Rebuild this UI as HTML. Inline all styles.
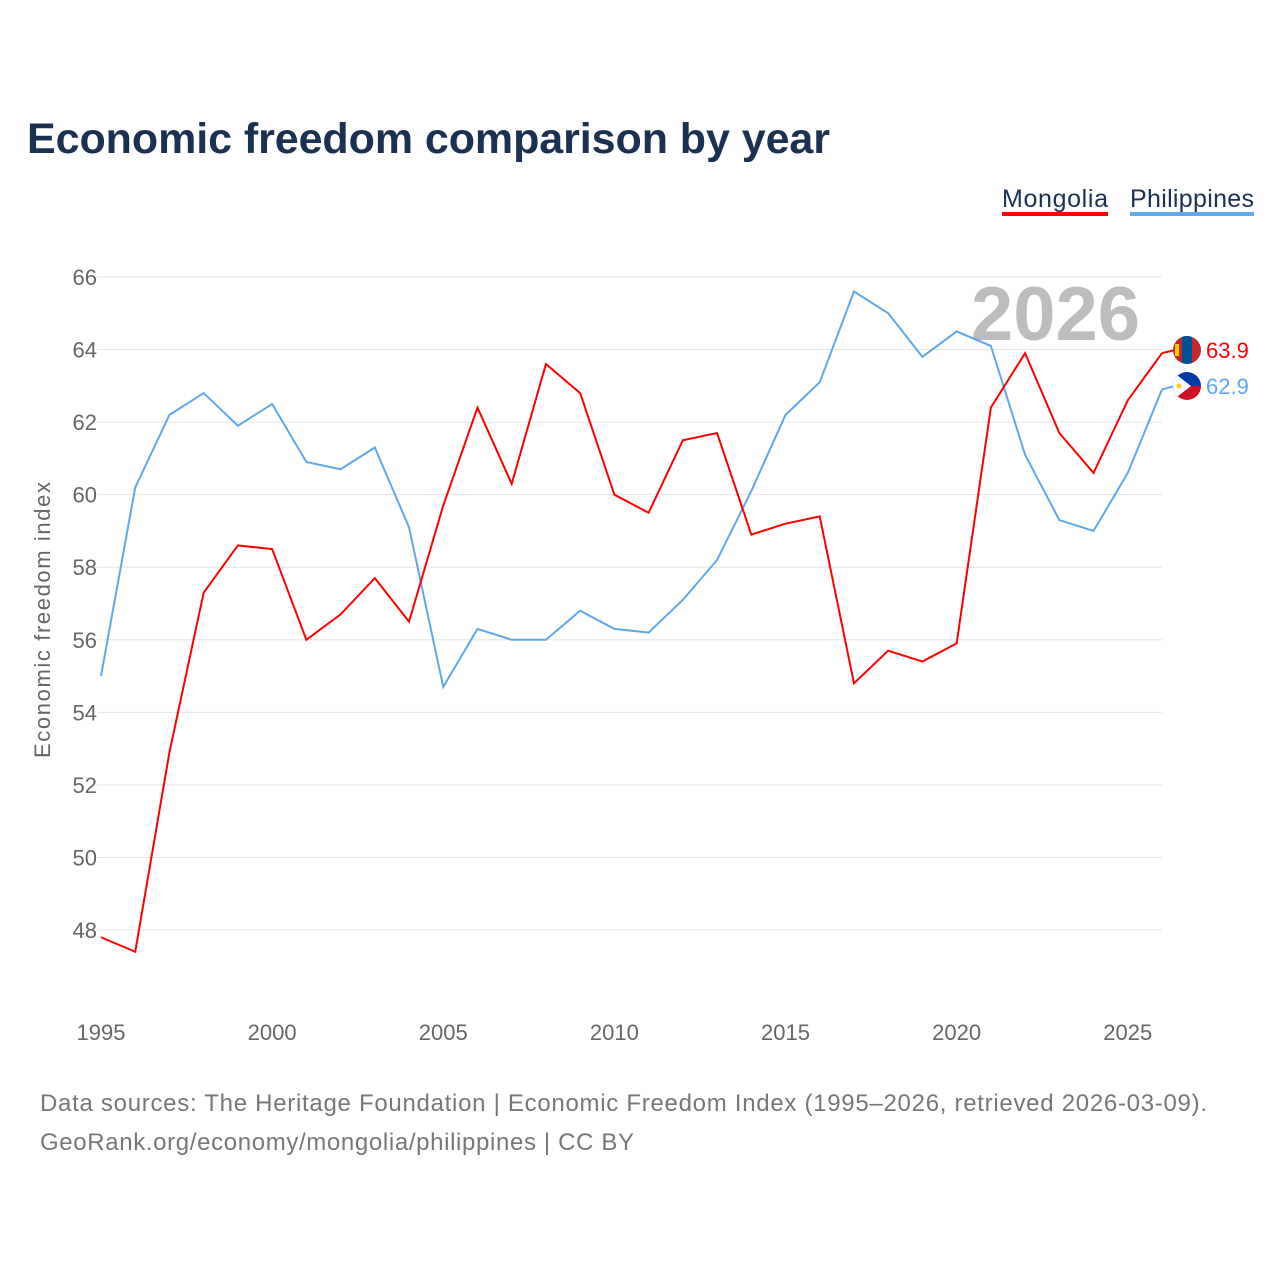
<!DOCTYPE html>
<html><head><meta charset="utf-8">
<style>
body{margin:0;background:#fff;font-family:"Liberation Sans",sans-serif;}
svg text{font-family:"Liberation Sans",sans-serif;}
</style></head>
<body>
<svg id="chart" width="1280" height="1280" viewBox="0 0 1280 1280">
<defs>
<clipPath id="cm"><circle cx="1187" cy="350" r="14"/></clipPath>
<clipPath id="cp"><circle cx="1187" cy="386" r="14"/></clipPath>
</defs>
<text x="27" y="153" font-size="43" font-weight="bold" fill="#1b3152" textLength="803">Economic freedom comparison by year</text>
<g>
<text x="1002" y="207" font-size="25" fill="#1b3152" textLength="106">Mongolia</text>
<rect x="1002" y="212" width="106" height="4" fill="#ff0000"/>
</g>
<g>
<text x="1130" y="207" font-size="25" fill="#1b3152" textLength="124">Philippines</text>
<rect x="1130" y="212" width="124" height="4" fill="#5fa8ec"/>
</g>
<g id="grid"></g>
<g id="yticks"></g>
<g id="xticks"></g>
<text transform="translate(50,620) rotate(-90)" text-anchor="middle" font-size="22" fill="#666" textLength="276">Economic freedom index</text>
<text x="1140" y="340" text-anchor="end" font-size="76" font-weight="bold" fill="#bdbdbd">2026</text>
<g id="series"></g>
<g clip-path="url(#cm)">
<rect x="1173" y="336" width="28" height="28" fill="#c4272f"/>
<rect x="1182" y="336" width="10" height="28" fill="#015197"/>
<rect x="1175" y="344" width="4" height="12" fill="#f9cf02"/>
</g>
<g clip-path="url(#cp)">
<rect x="1173" y="372" width="28" height="14" fill="#0038a8"/>
<rect x="1173" y="386" width="28" height="14" fill="#ce1126"/>
<polygon points="1173,372 1173,400 1191,386" fill="#fff"/>
<circle cx="1179" cy="386" r="2.5" fill="#fcd116"/>
</g>
<text x="40" y="1111" font-size="24" fill="#777" textLength="1167">Data sources: The Heritage Foundation | Economic Freedom Index (1995–2026, retrieved 2026-03-09).</text>
<text x="40" y="1150" font-size="24" fill="#777" textLength="594">GeoRank.org/economy/mongolia/philippines | CC BY</text>
</svg>
<script>
const years=[1995,1996,1997,1998,1999,2000,2001,2002,2003,2004,2005,2006,2007,2008,2009,2010,2011,2012,2013,2014,2015,2016,2017,2018,2019,2020,2021,2022,2023,2024,2025,2026];
const mongolia=[47.8,47.4,52.9,57.3,58.6,58.5,56.0,56.7,57.7,56.5,59.7,62.4,60.3,63.6,62.8,60.0,59.5,61.5,61.7,58.9,59.2,59.4,54.8,55.7,55.4,55.9,62.4,63.9,61.7,60.6,62.6,63.9];
const philippines=[55.0,60.2,62.2,62.8,61.9,62.5,60.9,60.7,61.3,59.1,54.7,56.3,56.0,56.0,56.8,56.3,56.2,57.1,58.2,60.1,62.2,63.1,65.6,65.0,63.8,64.5,64.1,61.1,59.3,59.0,60.6,62.9];
const yTicks=[48,50,52,54,56,58,60,62,64,66];
const xTicks=[1995,2000,2005,2010,2015,2020,2025];
const NS="http://www.w3.org/2000/svg";
const x=v=>101+(v-1995)*(1162-101)/31;
const y=v=>277+(66-v)*(930-277)/18;
function el(t,a,p){const e=document.createElementNS(NS,t);for(const k in a)e.setAttribute(k,a[k]);p.appendChild(e);return e;}
const grid=document.getElementById('grid'),yt=document.getElementById('yticks'),xt=document.getElementById('xticks'),ser=document.getElementById('series');
yTicks.forEach(v=>{
 const l=el('line',{x1:97,x2:1162,y1:y(v),y2:y(v),stroke:'#e6e6e6','stroke-width':1},grid);
 
 
 const t=el('text',{x:97,y:y(v)+8,'text-anchor':'end','font-size':22,fill:'#666'},yt);
 t.textContent=v;
 
 
});
xTicks.forEach(v=>{
 const t=el('text',{x:x(v),y:1040,'text-anchor':'middle','font-size':22,fill:'#666'},xt);
 t.textContent=v;
 
 
});
function line(vals,color,name,fy){
 const p=el('polyline',{points:vals.map((v,i)=>x(years[i])+','+y(v)).join(' '),fill:'none',stroke:color,'stroke-width':2},ser);
 
 
 const last=vals[vals.length-1];
 const c=el('line',{x1:x(years[years.length-1]),y1:y(last),x2:1175,y2:fy,stroke:color,'stroke-width':2},ser);
 
 
 const t=el('text',{x:1206,y:fy+8,'font-size':22,fill:color},ser);
 t.textContent=last.toFixed(1);
 
 
}
line(philippines,'#5fa8ec','philippines-line',386);
line(mongolia,'#ff0000','mongolia-line',350);
</script>
</body></html>
